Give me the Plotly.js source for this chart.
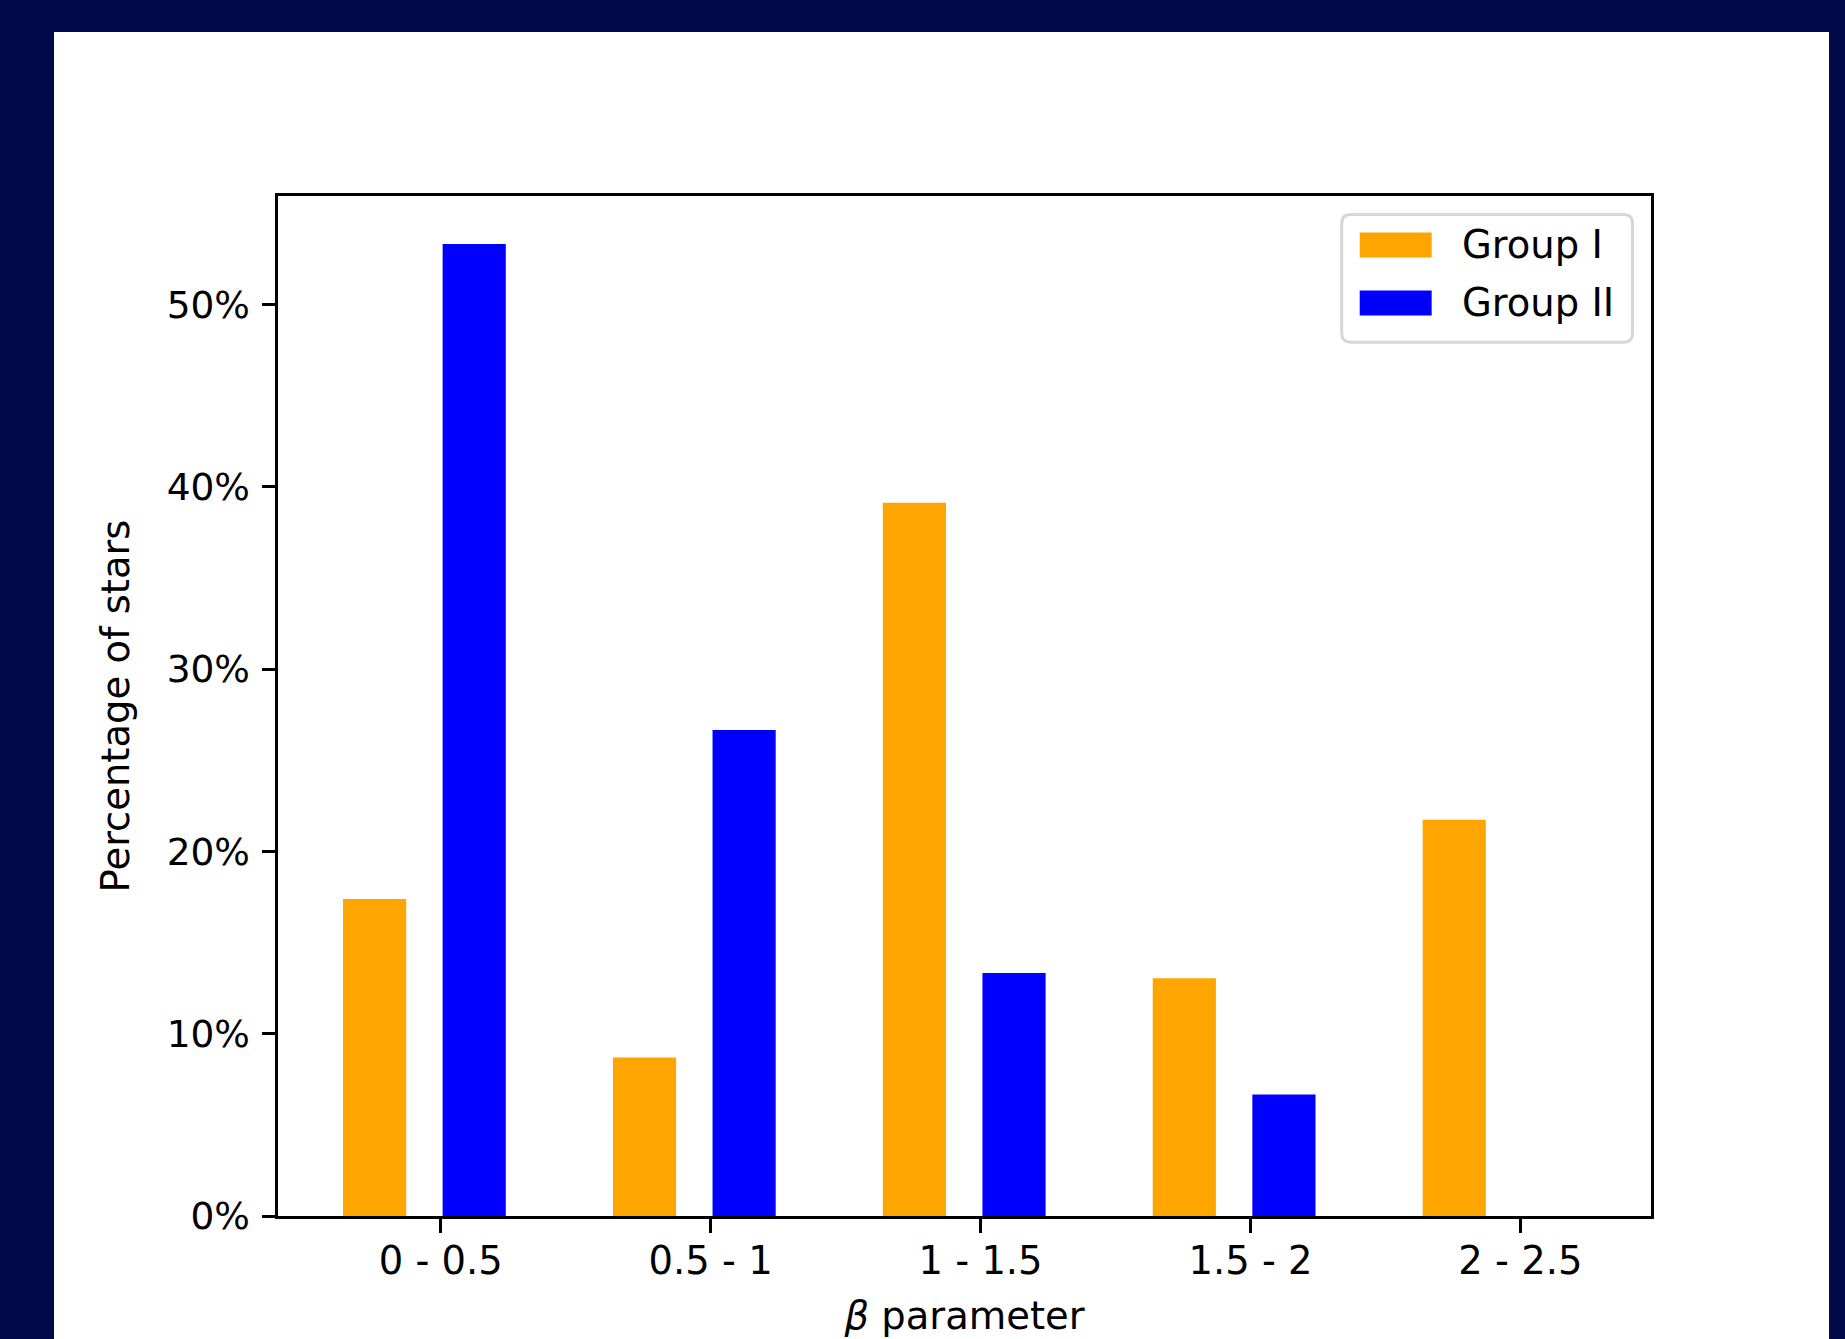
<!DOCTYPE html>
<html>
<head>
<meta charset="utf-8">
<script src="https://cdn.plot.ly/plotly-3.0.1.min.js"></script>
<style>
  html, body { margin: 0; padding: 0; background: #000A4B; overflow: hidden; width: 1845px; height: 1339px; }
  #chart { position: absolute; left: 54px; top: 32px; width: 1775px; height: 1331px; }
</style>
</head>
<body>
<div id="chart"></div>
<script>
// ---- data ----
const categories = ['0 - 0.5', '0.5 - 1', '1 - 1.5', '1.5 - 2', '2 - 2.5'];
const groupI = [17.39, 8.70, 39.13, 13.04, 21.74];
const groupII = [53.33, 26.67, 13.33, 6.67, 0];
const seriesNames = ['Group I', 'Group II'];
const seriesColors = ['#FFA500', '#0000FF'];
const yTickVals = [0, 10, 20, 30, 40, 50];
const yTickText = ['0%', '10%', '20%', '30%', '40%', '50%'];
const xTitle = '<i>β</i> parameter';
const yTitle = 'Percentage of stars';

// ---- layout helpers (pixel -> paper) ----
const W = 1775, H = 1331;
const M = {l: 223.5, r: 177.5, t: 163.5, b: 146.5};
const PW = W - M.l - M.r, PH = H - M.t - M.b;
const OX = 54, OY = 32; // div offset within page
const px = x => (x - OX - M.l) / PW;
const py = y => (H - M.b - (y - OY)) / PH;

const FONT = 'DejaVu Sans, sans-serif';
const FS = 38.5;

const traces = [
  {type: 'bar', x: categories, y: groupI, name: seriesNames[0],
   marker: {color: seriesColors[0], line: {width: 0}}, offset: -0.362, width: 0.234, showlegend: false,
   hoverinfo: 'skip'},
  {type: 'bar', x: categories, y: groupII, name: seriesNames[1],
   marker: {color: seriesColors[1], line: {width: 0}}, offset: 0.007, width: 0.234, showlegend: false,
   hoverinfo: 'skip'}
];

// custom matplotlib-like legend
function roundRect(x0, y0, x1, y1, r) {
  const X = v => px(v), Y = v => py(v);
  return `M${X(x0 + r)},${Y(y0)} L${X(x1 - r)},${Y(y0)} Q${X(x1)},${Y(y0)} ${X(x1)},${Y(y0 + r)} ` +
         `L${X(x1)},${Y(y1 - r)} Q${X(x1)},${Y(y1)} ${X(x1 - r)},${Y(y1)} ` +
         `L${X(x0 + r)},${Y(y1)} Q${X(x0)},${Y(y1)} ${X(x0)},${Y(y1 - r)} ` +
         `L${X(x0)},${Y(y0 + r)} Q${X(x0)},${Y(y0)} ${X(x0 + r)},${Y(y0)} Z`;
}
const legendRows = [{y0: 232, y1: 257}, {y0: 290, y1: 315}];
const shapes = [
  {type: 'path', xref: 'paper', yref: 'paper', path: roundRect(1342, 214, 1633, 342, 9),
   fillcolor: 'rgba(255,255,255,0.8)', line: {color: '#d6d6d6', width: 3}}
];
const annotations = [];
legendRows.forEach((r, i) => {
  shapes.push({type: 'rect', xref: 'paper', yref: 'paper',
    x0: px(1360), x1: px(1432), y0: py(r.y1), y1: py(r.y0),
    fillcolor: seriesColors[i], line: {width: 0}});
  annotations.push({xref: 'paper', yref: 'paper', x: px(1460), y: py((r.y0 + r.y1) / 2),
    xanchor: 'left', yanchor: 'middle', showarrow: false, text: seriesNames[i],
    font: {family: FONT, size: FS, color: '#000'}});
});

const layout = {
  width: W, height: H,
  margin: M,
  paper_bgcolor: '#ffffff', plot_bgcolor: '#ffffff',
  barmode: 'overlay',
  font: {family: FONT, size: FS, color: '#000'},
  xaxis: {
    type: 'category', range: [-0.603, 4.484],
    showline: true, linecolor: '#000', linewidth: 3, mirror: true,
    ticks: 'outside', ticklen: 13.5, tickwidth: 3, tickcolor: '#000',
    tickfont: {family: FONT, size: FS, color: '#000'},
    ticklabelstandoff: -5,
    showgrid: false, zeroline: false,
    title: {text: xTitle, font: {family: FONT, size: FS, color: '#000'}, standoff: 21}
  },
  yaxis: {
    range: [0, 55.96], tickmode: 'array', tickvals: yTickVals, ticktext: yTickText,
    showline: true, linecolor: '#000', linewidth: 3, mirror: true,
    ticks: 'outside', ticklen: 13.5, tickwidth: 3, tickcolor: '#000',
    tickfont: {family: FONT, size: 37.5, color: '#000'},
    ticklabelstandoff: 4,
    showgrid: false, zeroline: false,
    title: {text: yTitle, font: {family: FONT, size: FS, color: '#000'}, standoff: 26}
  },
  shapes: shapes,
  annotations: annotations,
  showlegend: false
};

Plotly.newPlot('chart', traces, layout, {staticPlot: true, displayModeBar: false});
</script>
</body>
</html>
